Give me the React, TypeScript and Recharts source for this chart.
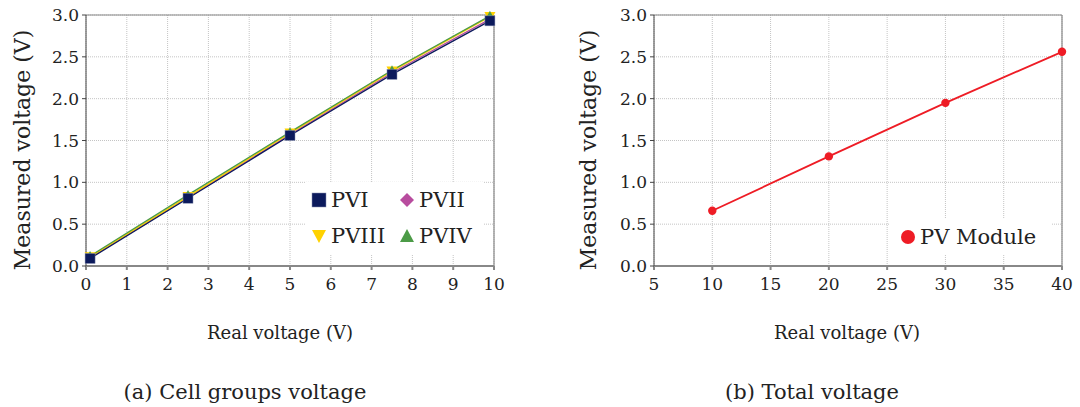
import React from 'react';
import { LineChart, Line, XAxis, YAxis, CartesianGrid, ReferenceLine } from 'recharts';

const groupX = [0.1, 2.5, 5, 7.5, 9.9];
const pvI = [0.09, 0.81, 1.56, 2.29, 2.93];
const pvII = [0.1, 0.82, 1.57, 2.31, 2.95];
const pvIII = [0.11, 0.83, 1.59, 2.33, 2.98];
const pvIV = [0.12, 0.85, 1.6, 2.34, 2.99];

const moduleX = [10, 20, 30, 40];
const moduleY = [0.66, 1.31, 1.95, 2.56];

const leftXTicks = [0, 1, 2, 3, 4, 5, 6, 7, 8, 9, 10];
const rightXTicks = [5, 10, 15, 20, 25, 30, 35, 40];
const yTicks = [0, 0.5, 1, 1.5, 2, 2.5, 3];

const groupData = groupX.map((x, i) => ({ x, pvI: pvI[i], pvII: pvII[i], pvIII: pvIII[i], pvIV: pvIV[i] }));
const moduleData = moduleX.map((x, i) => ({ x, v: moduleY[i] }));

const FONT = '"DejaVu Serif", serif';
const C1 = '#0c1a5c';
const C2 = '#b84c9e';
const C3 = '#ffd200';
const C4 = '#4c9b47';
const CR = '#ee1c25';

const square = (color: string, s: number) => (p: any) => (
  <rect key={p.index} x={p.cx - s / 2} y={p.cy - s / 2} width={s} height={s} fill={color} stroke="#8890b0" strokeWidth={0.5} />
);
const diamond = (color: string, s: number) => (p: any) => (
  <polygon key={p.index} points={`${p.cx},${p.cy - s / 2} ${p.cx + s / 2},${p.cy} ${p.cx},${p.cy + s / 2} ${p.cx - s / 2},${p.cy}`} fill={color} />
);
const triDown = (color: string, s: number) => (p: any) => (
  <polygon key={p.index} points={`${p.cx - s / 2},${p.cy - s / 2.4} ${p.cx + s / 2},${p.cy - s / 2.4} ${p.cx},${p.cy + s / 2}`} fill={color} />
);
const triUp = (color: string, s: number) => (p: any) => (
  <polygon key={p.index} points={`${p.cx - s / 2},${p.cy + s / 2.4} ${p.cx + s / 2},${p.cy + s / 2.4} ${p.cx},${p.cy - s / 2}`} fill={color} />
);
const circle = (color: string, r: number) => (p: any) => <circle key={p.index} cx={p.cx} cy={p.cy} r={r} fill={color} />;

const YLab = (props: any) => (
  <text x={props.px} y={props.py} transform={`rotate(-90, ${props.px}, ${props.py})`} textAnchor="middle" dominantBaseline="central"
    fontFamily={FONT} fontSize={22} fill="#222">Measured voltage (V)</text>
);
const XLab = (props: any) => (
  <text x={props.px} y={props.py} textAnchor="middle" dominantBaseline="central" fontFamily={FONT} fontSize={18} fill="#222">Real voltage (V)</text>
);

const tickStyle = { fontFamily: FONT, fontSize: 17, fill: '#222' };

const LegendMark = ({ kind, color }: { kind: string; color: string }) => {
  const s = 16;
  let shape: any = null;
  if (kind === 'square') shape = <rect x={1} y={1} width={14} height={14} fill={color} stroke="#8890b0" strokeWidth={0.5} />;
  if (kind === 'diamond') shape = <polygon points={`8,1 15,8 8,15 1,8`} fill={color} />;
  if (kind === 'down') shape = <polygon points={`1,2 15,2 8,15`} fill={color} />;
  if (kind === 'up') shape = <polygon points={`1,14 15,14 8,1`} fill={color} />;
  if (kind === 'circle') shape = <circle cx={8} cy={8} r={7} fill={color} />;
  return <svg width={s} height={s} style={{ display: 'block' }}>{shape}</svg>;
};

const legendItems = [
  { name: 'PVI', kind: 'square', color: C1 },
  { name: 'PVII', kind: 'diamond', color: C2 },
  { name: 'PVIII', kind: 'down', color: C3 },
  { name: 'PVIV', kind: 'up', color: C4 },
];

const LeftLegend = () => (
  <div style={{ position: 'absolute', left: 306, top: 182, background: '#fff', width: 178, height: 72, display: 'grid', gridTemplateColumns: '88px 88px', gridAutoRows: '36px', fontFamily: FONT, fontSize: 21, color: '#222', lineHeight: 1 }}>
    {legendItems.map((it) => (
      <div key={it.name} style={{ display: 'flex', alignItems: 'center' }}>
        <div style={{ width: 5 }} />
        <LegendMark kind={it.kind} color={it.color} />
        <span style={{ marginLeft: 4 }}>{it.name}</span>
      </div>
    ))}
  </div>
);

const RightLegend = () => (
  <div style={{ position: 'absolute', left: 890, top: 219, background: '#fff', width: 162, height: 36, display: 'flex', alignItems: 'center', fontFamily: FONT, fontSize: 21, color: '#222', lineHeight: 1 }}>
    <div style={{ width: 10 }} />
    <LegendMark kind="circle" color={CR} />
    <span style={{ marginLeft: 4 }}>PV Module</span>
  </div>
);

export default function App() {
  return (
    <div style={{ position: 'absolute', left: 0, top: 0, width: 1080, height: 407, background: '#fff' }}>
      <div style={{ position: 'absolute', left: 0, top: 0 }}>
        <LineChart width={540} height={407} data={groupData} margin={{ top: 15, right: 46, bottom: 111, left: 46 }}>
          <CartesianGrid stroke="#c4c4c4" strokeDasharray="1 1" />
          <XAxis type="number" dataKey="x" domain={[0, 10]} ticks={leftXTicks} tick={tickStyle} tickSize={4} tickMargin={8}
            height={30} stroke="#888" strokeWidth={2} interval={0} label={<XLab px={280} py={332} />} />
          <YAxis type="number" domain={[0, 3]} ticks={yTicks} tickFormatter={(v: number) => v.toFixed(1)} tick={tickStyle} tickSize={4} tickMargin={3}
            width={40} stroke="#444" interval={0} label={<YLab px={22} py={150} />} />
          <ReferenceLine y={3} stroke="#888" strokeWidth={1.2} />
          <ReferenceLine x={10} stroke="#888" strokeWidth={1.2} />
          <Line dataKey="pvII" stroke={C2} strokeWidth={1.3} dot={diamond(C2, 10)} isAnimationActive={false} />
          <Line dataKey="pvIII" stroke={C3} strokeWidth={1.6} dot={triDown(C3, 11)} isAnimationActive={false} />
          <Line dataKey="pvIV" stroke={C4} strokeWidth={1.3} dot={triUp(C4, 10)} isAnimationActive={false} />
          <Line dataKey="pvI" stroke={C1} strokeWidth={1.3} dot={square(C1, 10)} isAnimationActive={false} />
        </LineChart>
      </div>
      <div style={{ position: 'absolute', left: 560, top: 0 }}>
        <LineChart width={520} height={407} data={moduleData} margin={{ top: 15, right: 18, bottom: 111, left: 54 }}>
          <CartesianGrid stroke="#c4c4c4" strokeDasharray="1 1" />
          <XAxis type="number" dataKey="x" domain={[5, 40]} ticks={rightXTicks} tick={tickStyle} tickSize={4} tickMargin={8}
            height={30} stroke="#888" strokeWidth={2} interval={0} label={<XLab px={287} py={332} />} />
          <YAxis type="number" domain={[0, 3]} ticks={yTicks} tickFormatter={(v: number) => v.toFixed(1)} tick={tickStyle} tickSize={4} tickMargin={3}
            width={40} stroke="#444" interval={0} label={<YLab px={28} py={150} />} />
          <ReferenceLine y={3} stroke="#888" strokeWidth={1.2} />
          <ReferenceLine x={40} stroke="#888" strokeWidth={1.2} />
          <Line dataKey="v" stroke={CR} strokeWidth={1.8} dot={circle(CR, 4.2)} isAnimationActive={false} />
        </LineChart>
      </div>
      <LeftLegend />
      <RightLegend />
      <svg width={1080} height={407} style={{ position: 'absolute', left: 0, top: 0, pointerEvents: 'none' }}>
        <text x={245} y={392} textAnchor="middle" dominantBaseline="central" fontFamily={FONT} fontSize={21} fill="#222">(a) Cell groups voltage</text>
        <text x={812} y={392} textAnchor="middle" dominantBaseline="central" fontFamily={FONT} fontSize={21} fill="#222">(b) Total voltage</text>
      </svg>
    </div>
  );
}
